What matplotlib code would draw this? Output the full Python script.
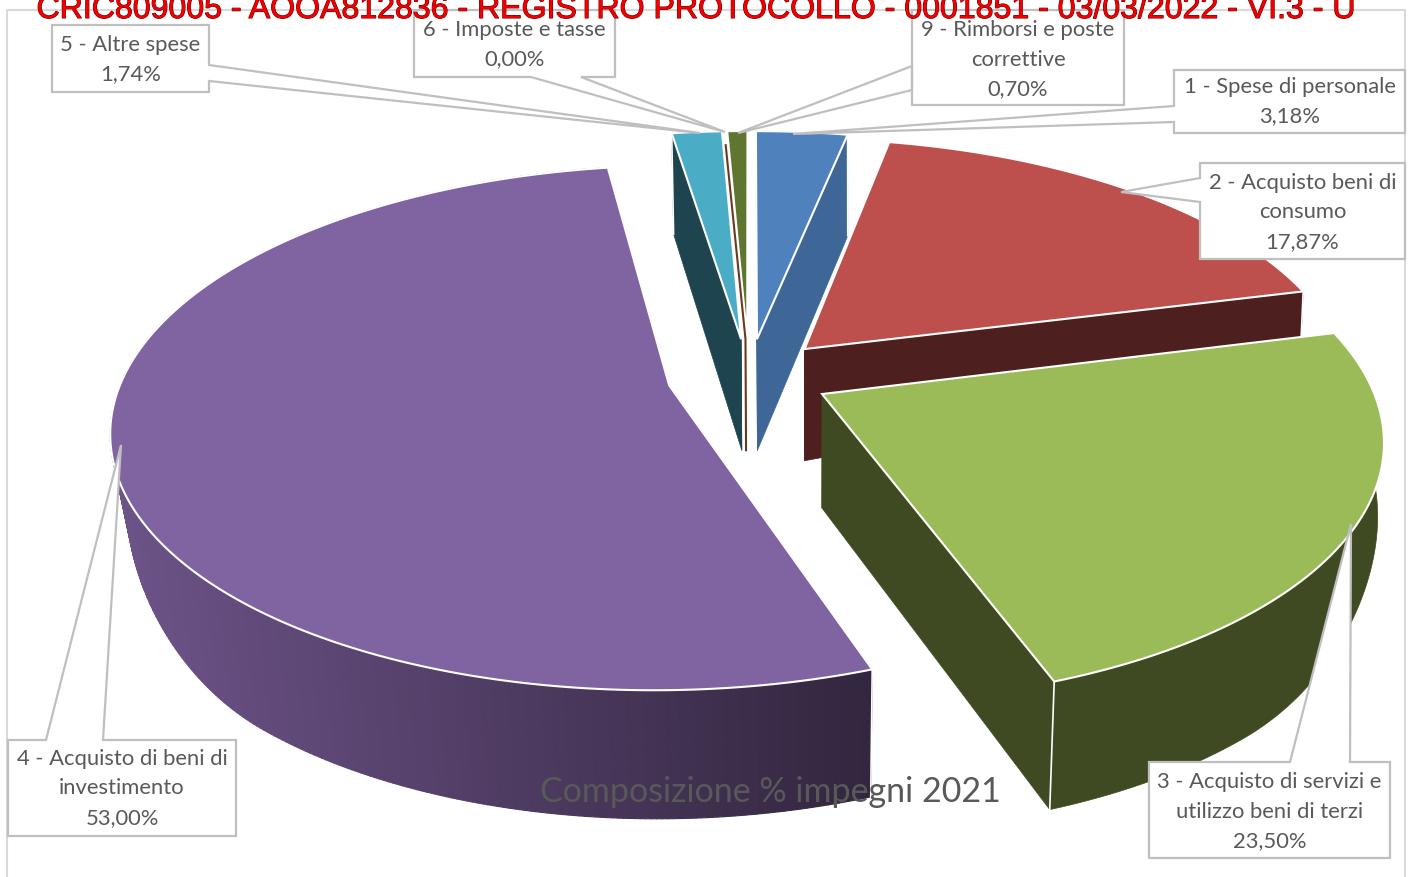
import numpy as np
import matplotlib
matplotlib.use('Agg')
import matplotlib.pyplot as plt
import matplotlib.patheffects as pe
from matplotlib.collections import PolyCollection
from matplotlib.colors import to_rgb
from matplotlib.patches import Polygon

header = 'CRIC809005 - AOOA812836 - REGISTRO PROTOCOLLO - 0001851 - 03/03/2022 - VI.3 - U'
title = 'Composizione % impegni 2021'

# voci di spesa, in ordine di disegno della torta (senso orario dalle ore 12)
names = ['1 - Spese di personale', '2 - Acquisto beni di\nconsumo',
         '3 - Acquisto di servizi e\nutilizzo beni di terzi',
         '4 - Acquisto di beni di\ninvestimento', '5 - Altre spese',
         '6 - Imposte e tasse', '9 - Rimborsi e poste\ncorrettive']
shares = [3.18, 17.87, 23.50, 53.00, 1.74, 0.00, 0.70]

top_colors = ['#4f81bd', '#bd4f4c', '#9bbb59', '#8064a2', '#4bacc6', '#6b3a1c', '#5f7530']
wall_colors = ['#3e6797', '#4d1f1e', '#3f4a23', '#6c5388', '#1e444f', '#6b3a1c', '#46581f']
wall_end = '#33263f'

# proiezione prospettica del piano della torta
cx_top, cx_bot = 749, 749.5
cy_top, cy_bot = 376, 489
a_top, a_bot_right, a_bot_left = 546, 541, 533
b_top, b_bot = 252.5, 265
persp, persp_bot_x = 0.161, 0.155
side_lift = 50
explode = 0.15
R = 1.0


def project(u, v, bottom=False):
    u = np.asarray(u, dtype=float)
    w = 1 + persp * v
    if bottom:
        a_bot = np.where(u < 0, a_bot_left, a_bot_right)
        # il bordo inferiore risale verso i lati estremi
        lift = side_lift * np.clip((np.abs(u) - 0.8) / 0.35, 0, 1) ** 2
        return cx_bot + a_bot * u / (1 + persp_bot_x * v), cy_bot - b_bot * v / w - lift
    return cx_top + a_top * u / w, cy_top - b_top * v / w


def wedge(start, end):
    # angoli in gradi, 0 in alto e positivi in senso orario
    mid = np.radians((start + end) / 2)
    ox, oy = explode * np.sin(mid), explode * np.cos(mid)
    th = np.radians(np.linspace(start, end, max(int(end - start) * 2, 2)))
    return ox, oy, ox + R * np.sin(th), oy + R * np.cos(th)


fig = plt.figure(figsize=(14.15, 8.77), dpi=100)
ax = fig.add_axes([0, 0, 1, 1])
ax.set_xlim(0, 1415)
ax.set_ylim(877, 0)
ax.axis('off')

# cornice del grafico
ax.plot([7, 7, 1405, 1405], [877, 10, 10, 877], color='#d9d9d9', lw=1.5, zorder=1)

total = sum(shares)
edges = np.concatenate([[0], np.cumsum(shares)]) / total * 360
draw_order = [4, 6, 5, 0, 1, 3, 2]

z = 2
for i in draw_order:
    ox, oy, us, vs = wedge(edges[i], edges[i + 1])
    tx, ty = project(us, vs)
    bx, by = project(us, vs, bottom=True)
    ax0, ay0 = project(ox, oy)
    bx0, by0 = project(ox, oy, bottom=True)

    # la voce a 0,00% resta un filo del suo colore
    if shares[i] == 0:
        ax.plot([tx[0], ax0, bx0], [ty[0] + 14, ay0, by0], color=top_colors[i], lw=1.5,
                solid_joinstyle='miter', zorder=z)
        z += 1
        continue

    # le pareti della fetta sottilissima non si vedono
    if shares[i] >= 1:
        # pareti radiali
        for k in (0, -1):
            ax.add_patch(Polygon([(ax0, ay0), (tx[k], ty[k]), (bx[k], by[k]), (bx0, by0)],
                                 fc=wall_colors[i], ec=wall_colors[i], lw=0.5, zorder=z))
        z += 1

        # parete esterna, sfumata solo per la fetta grande
        if i == 3:
            quads = [[(tx[j], ty[j]), (tx[j + 1], ty[j + 1]), (bx[j + 1], by[j + 1]), (bx[j], by[j])]
                     for j in range(len(tx) - 1)]
            c0, c1 = np.array(to_rgb(wall_colors[i])), np.array(to_rgb(wall_end))
            f = np.clip((tx[:-1] - 117) / (870 - 117), 0, 1)
            cols = [c0 + (c1 - c0) * t for t in f]
            ax.add_collection(PolyCollection(quads, facecolors=cols, edgecolors=cols, lw=0.8, zorder=z))
        else:
            outer = list(zip(tx, ty)) + list(zip(bx[::-1], by[::-1]))
            ax.add_patch(Polygon(outer, fc=wall_colors[i], ec=wall_colors[i], lw=0.5, zorder=z))
        z += 1

        # spigoli verticali
        for k in (0, -1):
            ax.plot([tx[k], bx[k]], [ty[k], by[k]], color='white', lw=1.2, zorder=z)
        z += 1

    # faccia superiore
    pts = [(ax0, ay0)] + list(zip(tx, ty))
    ax.add_patch(Polygon(pts, fc=top_colors[i], ec='white', lw=1.5, joinstyle='miter', zorder=z))
    z += 1

# etichette a fumetto: riquadro, base del fumetto, punta
boxes = [(1174, 70, 1405, 133), (1200, 163, 1405, 259), (1149, 762, 1390, 858),
         (8, 740, 236, 836), (52, 25, 209, 92), (414, 10, 615, 77), (912, 10, 1124, 105)]
bases = [[(1174, 122), (1174, 106)], [(1200, 202), (1200, 178)], [(1290, 762), (1350, 762)],
         [(46, 740), (103, 740)], [(209, 65), (209, 81)], [(581, 77), (531, 77)],
         [(912, 66), (912, 90)]]
tips = [(793, 134), (1121, 192), (1351, 524), (121, 445), (700, 133), (725, 132), (738, 133)]
sides = ['left', 'left', 'top', 'top', 'right', 'bottom', 'left']
text_y = [87, 183, 782, 759, 45, 30, 30]
line_gap = 29.5

for i in range(len(names)):
    x0, y0, x1, y1 = boxes[i]
    b0, b1 = bases[i]
    tip = tips[i]
    if sides[i] == 'left':
        pts = [(x0, y0), (x1, y0), (x1, y1), (x0, y1), b0, tip, b1]
    elif sides[i] == 'top':
        pts = [(x0, y0), b0, tip, b1, (x1, y0), (x1, y1), (x0, y1)]
    elif sides[i] == 'right':
        pts = [(x0, y0), (x1, y0), b0, tip, b1, (x1, y1), (x0, y1)]
    else:
        pts = [(x0, y0), (x1, y0), (x1, y1), b0, tip, b1, (x0, y1)]
    ax.add_patch(Polygon(pts, fc='white', ec='#bfbfbf', lw=1.6, zorder=100))
    value = f'{shares[i]:.2f}%'.replace('.', ',')
    lines = names[i].split('\n') + [value]
    for n, line in enumerate(lines):
        ax.text((x0 + x1) / 2, text_y[i] + n * line_gap, line, ha='center', va='center',
                fontsize=15.8, family='Lato', color='#595959', zorder=101)

ax.text(770, 792, title, ha='center', va='center', fontsize=24.5, family='Lato',
        color='#595959', zorder=102)

ax.text(696, 10, header, ha='center', va='center', fontsize=23.1, family='Liberation Sans',
        color='#f00000', zorder=103,
        path_effects=[pe.withStroke(linewidth=0.8, foreground='#700000')])

fig.savefig('out.png', dpi=100)
